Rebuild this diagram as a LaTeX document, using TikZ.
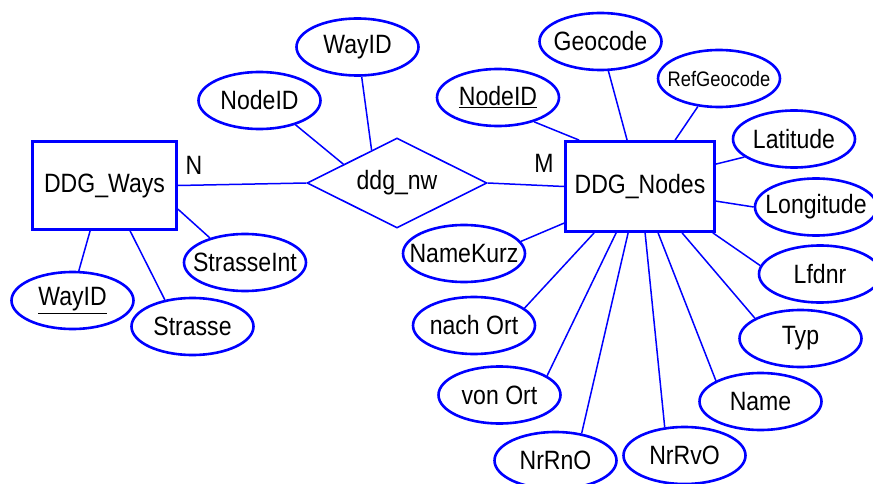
\documentclass[tikz,border=0pt]{standalone}
\usepackage{fontspec}
\setmainfont[FakeStretch=0.87]{Liberation Sans}
\usetikzlibrary{shapes.geometric,calc}
% attribute labels take no width, so every ellipse keeps its own size
\newcommand{\attrtext}[1]{\makebox[0pt]{#1}}

\begin{document}
\begin{tikzpicture}[x=1pt,y=-1pt,
  bigfont/.style={font=\fontsize{26.5}{29}\selectfont},
  attr/.style={ellipse, draw=blue, line width=2.6pt, minimum width=122pt,
    minimum height=57pt, inner sep=0pt, bigfont},
  entity/.style={rectangle, draw=blue, line width=2.8pt, inner sep=0pt, bigfont},
  relship/.style={diamond, draw=blue, line width=1.6pt, aspect=2,
    minimum width=180pt, minimum height=90pt, inner sep=0pt, bigfont},
  conn/.style={draw=blue, line width=1.5pt},
  card/.style={inner sep=0pt, bigfont}
]
\useasboundingbox (0,0) rectangle (873,484);

% entities and relationship
\node[entity, minimum width=144pt, minimum height=88pt] (ways) at (104.5,185.5) {DDG\_Ways};
\node[entity, minimum width=149pt, minimum height=90pt] (nodes) at (640,186.5) {DDG\_Nodes};
\node[relship] (rel) at (397,183) {ddg\_nw};

% cardinalities
\node[card] (cn) at (194,165) {N};
\node[card] (cm) at (544,163) {M};

% relationship attributes
\node[attr] (wayidR) at (357.5,47) {\attrtext{WayID}};
\node[attr] (nodeidR) at (259.5,100.5) {\attrtext{NodeID}};

% DDG_Ways attributes
\node[attr] (wayidW) at (72.5,300.5) {\attrtext{\underline{WayID}}};
\node[attr] (strasse) at (192.5,326.5) {\attrtext{Strasse}};
\node[attr] (strint) at (245,262.5) {\attrtext{StrasseInt}};

% DDG_Nodes attributes
\node[attr] (nodeidN) at (498,97.5) {\attrtext{\underline{NodeID}}};
\node[attr] (geocode) at (600.5,41.5) {\attrtext{Geocode}};
\node[attr, font=\fontsize{21}{24}\selectfont] (refgeo) at (719,78.5) {\attrtext{RefGeocode}};
\node[attr] (latitude) at (794,139) {\attrtext{Latitude}};
\node[attr] (longitude) at (816,207) {\attrtext{Longitude}};
\node[attr] (lfdnr) at (820,274) {\attrtext{Lfdnr}};
\node[attr] (typ) at (800.5,338.5) {\attrtext{Typ}};
\node[attr] (name) at (760.5,401.5) {\attrtext{Name}};
\node[attr] (nrrvo) at (684.5,455.5) {\attrtext{NrRvO}};
\node[attr] (nrrno) at (555.5,460.5) {\attrtext{NrRnO}};
\node[attr] (vonort) at (499.5,395) {\attrtext{von Ort}};
\node[attr] (nachort) at (474,325.5) {\attrtext{nach Ort}};
\node[attr] (namekurz) at (464,253.5) {\attrtext{NameKurz}};

% relationship links
\draw[conn] (ways.east) -- (rel.west);
\draw[conn] (rel.east) -- (nodes.west);
\draw[conn] (nodeidR.-34) -- ($(rel.west)!0.41!(rel.north)$);
\draw[conn] (wayidR.-82) -- ($(rel.west)!0.72!(rel.north)$);

% DDG_Ways attribute links
\draw[conn] ([xshift=59pt]ways.south west) -- (wayidW.78);
\draw[conn] ([xshift=99pt]ways.south west) -- (strasse.136);
\draw[conn] ([yshift=-69pt]ways.north east) -- (strint.145);

% DDG_Nodes attribute links
\draw[conn] ([xshift=15pt]nodes.north west) -- (nodeidN.-34);
\draw[conn] ([xshift=63pt]nodes.north west) -- (geocode.-75);
\draw[conn] ([xshift=111pt]nodes.north west) -- (refgeo.-127);
\draw[conn] ([yshift=-24pt]nodes.north east) -- (latitude.-160);
\draw[conn] ([yshift=-61pt]nodes.north east) -- (longitude.west);
\draw[conn] ([xshift=-3pt]nodes.south east) -- (lfdnr.172);
\draw[conn] ([xshift=118pt]nodes.south west) -- (typ.156);
\draw[conn] ([xshift=94pt]nodes.south west) -- (name.155);
\draw[conn] ([xshift=81pt]nodes.south west) -- (nrrvo.125);
\draw[conn] ([xshift=64pt]nodes.south west) -- (nrrno.46);
\draw[conn] ([xshift=52pt]nodes.south west) -- (vonort.22);
\draw[conn] ([xshift=30pt]nodes.south west) -- (nachort.19);
\draw[conn] ([yshift=-83pt]nodes.north west) -- (namekurz.12);
\end{tikzpicture}
\end{document}
